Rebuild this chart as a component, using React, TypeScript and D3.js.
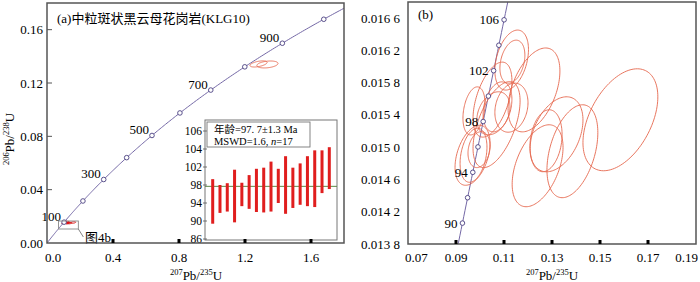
import React from "react";
import * as d3 from "d3";

// concordia age markers (Ma)
const leftAges = [100, 200, 300, 400, 500, 600, 700, 800, 900, 1000];
const leftAgeLabels = [100, 300, 500, 700, 900];
const rightAges = [90, 92, 94, 96, 98, 100, 102, 104, 106];
const rightAgeLabels = [90, 94, 98, 102, 106];

// axis ticks
const leftXTicks = [0, 0.4, 0.8, 1.2, 1.6];
const leftYTicks = [0, 0.04, 0.08, 0.12, 0.16];
const rightXTicks = [0.07, 0.09, 0.11, 0.13, 0.15, 0.17, 0.19];
const rightYTicks = [0.0138, 0.0142, 0.0146, 0.015, 0.0154, 0.0158, 0.0162, 0.0166];
const insetYTicks = [86, 90, 94, 98, 102, 104, 106];

// analyses (207Pb/235U, 206Pb/238U), half widths and correlation
const ellX = [0.1585, 0.1225, 0.1132, 0.1135, 0.1131, 0.1052, 0.124, 0.1319, 0.1385, 0.1275, 0.0969, 0.0973, 0.0996, 0.0975, 0.1069, 0.1056, 0.1073];
const ellY = [0.01534, 0.01571, 0.01608, 0.01606, 0.01549, 0.01559, 0.01477, 0.01516, 0.01495, 0.01508, 0.0149, 0.0149, 0.01497, 0.01545, 0.01528, 0.01542, 0.0155];
const ellA = [0.0156, 0.0108, 0.007, 0.0052, 0.0069, 0.0081, 0.0106, 0.011, 0.0106, 0.0067, 0.0073, 0.0056, 0.0046, 0.0046, 0.0098, 0.0069, 0.006];
const ellB = [0.000632, 0.00052, 0.000372, 0.000267, 0.000304, 0.000465, 0.000508, 0.000465, 0.000576, 0.000384, 0.000372, 0.000335, 0.000223, 0.000298, 0.000533, 0.000267, 0.00031];
const ellRho = [0.45, 0.45, 0.35, 0.3, 0.2, 0.5, 0.45, 0.38, 0.4, 0.2, 0.4, 0.3, 0.2, 0.3, 0.55, 0.3, 0.3];

// discordant analyses in panel (a)
const discX = [1.282, 1.336];
const discY = [0.1343, 0.1339];
const discA = [0.052, 0.064];
const discB = [0.0023, 0.0026];
const discRho = [0.5, 0.3];

// weighted mean ages (Ma): lower / upper ends
const barLow = [89.4, 91.8, 92.1, 89.7, 93.3, 92.7, 92.0, 91.9, 92.1, 94.0, 91.6, 92.9, 93.6, 93.3, 93.1, 96.2, 97.1];
const barHigh = [99.3, 98.0, 98.4, 101.4, 98.5, 100.2, 101.6, 101.85, 102.6, 101.6, 103.2, 101.85, 102.4, 103.2, 103.85, 103.85, 104.2];
const meanAge = 97.7;
const meanErr = 1.3;
const mswd = 1.6;

const L235 = 9.8485e-4;
const L238 = 1.55125e-4;
const conc = (t: number) => [Math.exp(L235 * t) - 1, Math.exp(L238 * t) - 1];

const SERIF = "'Liberation Serif', 'Times New Roman', 'Noto Sans CJK SC', serif";
const FRAME = "#555";
const CONC = "#7468a6";
const ELL = "#e5684e";

const leftX = d3.scaleLinear().domain([0, 1.8]).range([47, 344]);
const leftY = d3.scaleLinear().domain([0, 0.18]).range([243, 3]);
const rightX = d3.scaleLinear().domain([0.07, 0.19]).range([408, 696]);
const rightY = d3.scaleLinear().domain([0.0138, 0.0168]).range([244, 2]);
const insetX = d3.scaleLinear().domain([1, 17]).range([212.7, 329.3]);
const insetY = d3.scaleLinear().domain(insetYTicks).range(insetYTicks.map((_, i) => 239 - i * 18));

function ellipsePath(x: number, y: number, a: number, b: number, rho: number, sx: any, sy: any) {
  const pts = d3.range(0, 360, 3).map((deg) => {
    const t = (deg * Math.PI) / 180;
    const px = x + a * Math.cos(t);
    const py = y + b * (rho * Math.cos(t) + Math.sqrt(1 - rho * rho) * Math.sin(t));
    return [sx(px), sy(py)] as [number, number];
  });
  return d3.line().curve(d3.curveLinearClosed)(pts) || "";
}

function concPath(t0: number, t1: number, step: number, sx: any, sy: any) {
  const pts = d3.range(t0, t1 + step, step).map((t) => {
    const [x, y] = conc(t);
    return [sx(x), sy(y)] as [number, number];
  });
  return d3.line()(pts) || "";
}

function IsoLabel({ x, y, a, b, rotate }: { x: number; y: number; a: string; b: string; rotate?: boolean }) {
  return (
    <text x={x} y={y} textAnchor="middle" fontFamily={SERIF} fontSize={13}
      transform={rotate ? `rotate(-90 ${x} ${y})` : undefined}>
      <tspan fontSize={8.5} dy={-5}>{a}</tspan>
      <tspan dy={5}>Pb/</tspan>
      <tspan fontSize={8.5} dy={-5}>{b}</tspan>
      <tspan dy={5}>U</tspan>
    </text>
  );
}

const fmtR = (v: number) => {
  const s = v.toFixed(4);
  return s.slice(0, 5) + " " + s.slice(5);
};

// edge tick labels sit inside the frame
const anchorFor = (i: number, n: number) => (i === 0 ? "start" : i === n - 1 ? "end" : "middle");
const shiftFor = (i: number, n: number) => (i === 0 ? -3 : i === n - 1 ? 2 : 0);

export default function App() {
  const [lx0, lx1] = leftX.range();
  const [ly0, ly1] = leftY.range();
  const [rx0, rx1] = rightX.range();
  const [ry0, ry1] = rightY.range();
  const ix0 = 205, ix1 = 337, iy0 = 120, iy1 = 240;

  const ageText = `年龄=${Math.floor(meanAge)}. ${Math.round((meanAge % 1) * 10)}±${meanErr} Ma`;

  return (
    <svg width={700} height={282} style={{ position: "absolute", left: 0, top: 0, background: "#fff" }}>
      <defs>
        <clipPath id="clipL"><rect x={lx0} y={ly1} width={lx1 - lx0} height={ly0 - ly1} /></clipPath>
        <clipPath id="clipR"><rect x={rx0} y={ry1} width={rx1 - rx0} height={ry0 - ry1} /></clipPath>
      </defs>

      {/* ---------- panel (a) ---------- */}
      <g clipPath="url(#clipL)">
        <path d={concPath(0, 1200, 5, leftX, leftY)} fill="none" stroke={CONC} strokeWidth={1} />
        {discX.map((x, i) => (
          <path key={i} d={ellipsePath(x, discY[i], discA[i], discB[i], discRho[i], leftX, leftY)}
            fill="none" stroke={ELL} strokeWidth={0.9} />
        ))}
        {ellX.map((x, i) => (
          <path key={i} d={ellipsePath(x, ellY[i], ellA[i], ellB[i], ellRho[i], leftX, leftY)}
            fill="none" stroke="#e02020" strokeWidth={1} />
        ))}
        {leftAges.map((t) => {
          const [x, y] = conc(t);
          return <circle key={t} cx={leftX(x)} cy={leftY(y)} r={2.3} fill="#fff" stroke="#4a3f80" strokeWidth={0.9} />;
        })}
      </g>
      {leftAgeLabels.map((t) => {
        const [x, y] = conc(t);
        return (
          <text key={t} x={leftX(x) - 3} y={leftY(y) - 1} textAnchor="end" fontFamily={SERIF} fontSize={13}>{t}</text>
        );
      })}
      {/* zoom box */}
      <rect x={leftX(0.07)} y={leftY(0.0165)} width={leftX(0.19) - leftX(0.07)} height={leftY(0.0105) - leftY(0.0165)}
        fill="none" stroke="#888" strokeWidth={0.9} />
      <line x1={leftX(0.19)} y1={leftY(0.0105)} x2={leftX(0.19) + 5} y2={leftY(0.0105) + 8} stroke="#666" strokeWidth={0.8} />
      <text x={85} y={242} fontFamily={SERIF} fontSize={13}>图4b</text>

      {/* inset */}
      <rect x={ix0} y={iy0} width={ix1 - ix0} height={iy1 - iy0} fill="#fff" stroke="#777" strokeWidth={1} />
      <line x1={ix0} x2={ix1} y1={insetY(meanAge)} y2={insetY(meanAge)} stroke="#5e8a48" strokeWidth={1} />
      {barLow.map((lo, i) => (
        <rect key={i} x={insetX(i + 1) - 1.5} y={insetY(barHigh[i])} width={3}
          height={insetY(lo) - insetY(barHigh[i])} fill="#e01e1e" />
      ))}
      {insetYTicks.map((v) => (
        <g key={v}>
          <line x1={ix0 - 2} x2={ix0 + 2} y1={insetY(v)} y2={insetY(v)} stroke="#555" strokeWidth={0.8} />
          <text x={ix0 - 3} y={insetY(v) + 4} textAnchor="end" fontFamily={SERIF} fontSize={11.5}>{v}</text>
        </g>
      ))}
      <rect x={207} y={122} width={103} height={25} fill="#fff" stroke="#777" strokeWidth={0.9} />
      <text x={214} y={133} fontFamily={SERIF} fontSize={10.5}>{ageText}</text>
      <text x={214} y={144.5} fontFamily={SERIF} fontSize={10.5}>
        {`MSWD=${mswd}, `}<tspan fontStyle="italic">n</tspan>{`=${barLow.length}`}
      </text>

      {/* frame and axes */}
      <rect x={lx0} y={ly1} width={lx1 - lx0} height={ly0 - ly1} fill="none" stroke={FRAME} strokeWidth={1.5} />
      {leftXTicks.map((v, i) => (
        <g key={v}>
          {v > 0 && <rect x={leftX(v) - 1.5} y={ly0 - 4} width={3} height={4} fill="#000" />}
          <text x={leftX(v) + (i === 0 ? -2 : 0)} y={262} textAnchor={i === 0 ? "start" : "middle"}
            fontFamily={SERIF} fontSize={13}>{v.toFixed(1)}</text>
        </g>
      ))}
      {leftYTicks.map((v) => (
        <g key={v}>
          {v > 0 && <line x1={lx0} x2={lx0 + 5} y1={leftY(v)} y2={leftY(v)} stroke={FRAME} strokeWidth={1} />}
          <text x={43} y={leftY(v) + 4.5} textAnchor="end" fontFamily={SERIF} fontSize={13}>{v.toFixed(2)}</text>
        </g>
      ))}
      <text x={57} y={22.5} fontFamily={SERIF} fontSize={13}>(a)中粒斑状黑云母花岗岩(KLG10)</text>
      <IsoLabel x={196} y={280} a="207" b="235" />
      <IsoLabel x={14} y={139} a="206" b="238" rotate />

      {/* ---------- panel (b) ---------- */}
      <g clipPath="url(#clipR)">
        <path d={concPath(85, 112, 0.5, rightX, rightY)} fill="none" stroke={CONC} strokeWidth={1} />
        {ellX.map((x, i) => (
          <path key={i} d={ellipsePath(x, ellY[i], ellA[i], ellB[i], ellRho[i], rightX, rightY)}
            fill="none" stroke={ELL} strokeWidth={0.9} />
        ))}
        {rightAges.map((t) => {
          const [x, y] = conc(t);
          return <circle key={t} cx={rightX(x)} cy={rightY(y)} r={2.3} fill="#fff" stroke="#4a3f80" strokeWidth={0.9} />;
        })}
      </g>
      {rightAgeLabels.map((t) => {
        const [x, y] = conc(t);
        return (
          <text key={t} x={rightX(x) - 5} y={rightY(y) + 4.5} textAnchor="end" fontFamily={SERIF} fontSize={13}>{t}</text>
        );
      })}
      <rect x={rx0} y={ry1} width={rx1 - rx0} height={ry0 - ry1} fill="none" stroke={FRAME} strokeWidth={1.5} />
      {rightXTicks.map((v, i) => (
        <g key={v}>
          {i > 0 && i < rightXTicks.length - 1 && <rect x={rightX(v) - 1.5} y={ry0 - 4} width={3} height={4} fill="#000" />}
          <text x={rightX(v) + shiftFor(i, rightXTicks.length)} y={262} textAnchor={anchorFor(i, rightXTicks.length)}
            fontFamily={SERIF} fontSize={13}>{v.toFixed(2)}</text>
        </g>
      ))}
      {rightYTicks.map((v) => (
        <text key={v} x={400} y={rightY(v) + 4.5} textAnchor="end" fontFamily={SERIF} fontSize={13}>{fmtR(v)}</text>
      ))}
      <text x={418} y={19} fontFamily={SERIF} fontSize={13}>(b)</text>
      <IsoLabel x={552} y={280} a="207" b="235" />
    </svg>
  );
}
